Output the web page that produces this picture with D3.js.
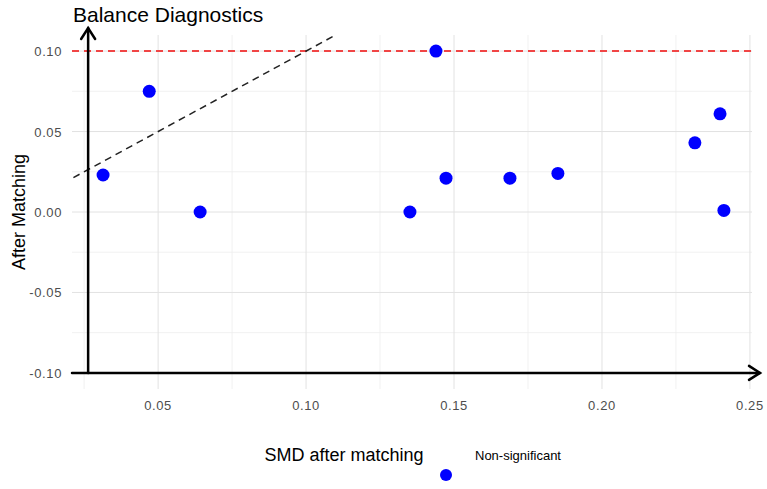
<!DOCTYPE html>
<html>
<head>
<meta charset="utf-8">
<script src="https://cdn.jsdelivr.net/npm/d3@7"></script>
<style>
  body { margin: 0; background: #fff; }
  svg { font-family: Arial, "Liberation Sans", sans-serif; }
</style>
</head>
<body>
<svg id="chart" width="767" height="489"></svg>
<script>
// datos
const smd = [0.0314, 0.047, 0.0642, 0.1351, 0.1439, 0.1473, 0.1689, 0.1851, 0.2314, 0.2399, 0.2412]
const after = [0.023, 0.075, 0.0, 0.0, 0.10, 0.021, 0.021, 0.024, 0.043, 0.061, 0.001]
const xTicks = [0.05, 0.10, 0.15, 0.20, 0.25]
const yTicks = [-0.10, -0.05, 0.00, 0.05, 0.10]
const xMinor = [0.025, 0.075, 0.125, 0.175, 0.225]
const yMinor = [-0.075, -0.025, 0.025, 0.075]
const thresholds = [0.10, -0.10]

const svg = d3.select('#chart')
const pLeft = 72, pRight = 752, pTop = 35, pBottom = 389

// escalas
const x = d3.scaleLinear().domain([0.0209, 0.2507]).range([pLeft, pRight])
const y = d3.scaleLinear().domain([-0.11, 0.11]).range([pBottom, pTop])

// rejilla
const grid = svg.append('g')
grid.selectAll('.vmin').data(xMinor).join('line')
  .attr('x1', d => x(d)).attr('x2', d => x(d)).attr('y1', pTop).attr('y2', pBottom)
  .attr('stroke', '#eeeeee').attr('stroke-width', 0.8)
grid.selectAll('.hmin').data(yMinor).join('line')
  .attr('y1', d => y(d)).attr('y2', d => y(d)).attr('x1', pLeft).attr('x2', pRight)
  .attr('stroke', '#eeeeee').attr('stroke-width', 0.8)
grid.selectAll('.vmaj').data(xTicks).join('line')
  .attr('x1', d => x(d)).attr('x2', d => x(d)).attr('y1', pTop).attr('y2', pBottom)
  .attr('stroke', '#e2e2e2').attr('stroke-width', 1)
grid.selectAll('.hmaj').data(yTicks).join('line')
  .attr('y1', d => y(d)).attr('y2', d => y(d)).attr('x1', pLeft).attr('x2', pRight)
  .attr('stroke', '#e2e2e2').attr('stroke-width', 1)

// etiquetas de los ejes
svg.append('g').selectAll('text').data(xTicks).join('text')
  .attr('x', d => x(d)).attr('y', 410)
  .attr('text-anchor', 'middle').attr('font-size', 13).attr('letter-spacing', 0.6)
  .attr('fill', '#4d4d4d')
  .text(d => d3.format('.2f')(d))
svg.append('g').selectAll('text').data(yTicks).join('text')
  .attr('x', 62).attr('y', d => y(d) + 5)
  .attr('text-anchor', 'end').attr('font-size', 13).attr('letter-spacing', 0.6)
  .attr('fill', '#4d4d4d')
  .text(d => d3.format('.2f')(d).replace('−', '-'))

// líneas de umbral
svg.append('g').selectAll('line').data(thresholds).join('line')
  .attr('x1', pLeft).attr('x2', pRight).attr('y1', d => y(d)).attr('y2', d => y(d))
  .attr('stroke', '#f04545').attr('stroke-width', 2).attr('stroke-dasharray', '7,5')

// diagonal y = x (recortada al panel)
svg.append('defs').append('clipPath').attr('id', 'panel')
  .append('rect').attr('x', pLeft).attr('y', pTop).attr('width', pRight - pLeft).attr('height', pBottom - pTop)
svg.append('line')
  .attr('clip-path', 'url(#panel)')
  .attr('x1', x(0)).attr('y1', y(0)).attr('x2', x(0.2507)).attr('y2', y(0.2507))
  .attr('stroke', '#222').attr('stroke-width', 1.5).attr('stroke-dasharray', '7,5')

// flechas de los ejes
const ax = svg.append('g').attr('stroke', '#000').attr('stroke-width', 2.5).attr('fill', 'none')
  .attr('stroke-linecap', 'round')
const x0 = x(0.02635), yb = y(-0.10)
ax.append('line').attr('x1', x0).attr('x2', x0).attr('y1', yb).attr('y2', 28)
ax.append('path').attr('d', `M${x0 - 7},${39} L${x0},${28} L${x0 + 7},${39}`)
ax.append('line').attr('x1', pLeft).attr('x2', 760).attr('y1', yb).attr('y2', yb)
ax.append('path').attr('d', `M${749},${yb - 7} L${760},${yb} L${749},${yb + 7}`)

// puntos
svg.append('g').selectAll('circle').data(smd).join('circle')
  .attr('cx', d => x(d)).attr('cy', (d, i) => y(after[i])).attr('r', 6.5)
  .attr('fill', '#0000ff')

// títulos
svg.append('text').attr('x', 73).attr('y', 22).attr('font-size', 21).attr('fill', '#000')
  .text('Balance Diagnostics')
svg.append('text').attr('transform', `translate(25,${y(0)}) rotate(-90)`)
  .attr('text-anchor', 'middle').attr('font-size', 18).attr('fill', '#000')
  .text('After Matching')
svg.append('text').attr('x', 344).attr('y', 461).attr('text-anchor', 'middle')
  .attr('font-size', 18).attr('fill', '#000').text('SMD after matching')

// leyenda
svg.append('text').attr('x', 475).attr('y', 460).attr('font-size', 13).attr('fill', '#000')
  .text('Non-significant')
svg.append('circle').attr('cx', 446).attr('cy', 475).attr('r', 6).attr('fill', '#0000ff')
</script>
</body>
</html>
